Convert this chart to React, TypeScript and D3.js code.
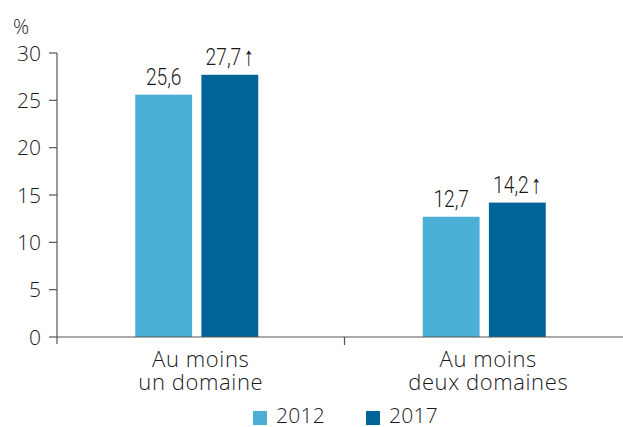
import React from "react";
import * as d3 from "d3";

const categories = ["Au moins\nun domaine", "Au moins\ndeux domaines"];
const seriesNames = ["2012", "2017"];
const values2012 = [25.6, 12.7];
const values2017 = [27.7, 14.2];
const valueLabels2012 = ["25,6", "12,7"];
const valueLabels2017 = ["27,7", "14,2"];
const significant2017 = [true, true];
const yTicks = [0, 5, 10, 15, 20, 25, 30];
const colors = ["#4cb0d6", "#006596"];

const W = 623;
const H = 427;
const mLeft = 57;
const mTop = 53;
const yZero = 337;

export default function App() {
  const y = d3.scaleLinear().domain([0, 30]).range([yZero, mTop]);
  const x0 = d3.scaleBand<string>().domain(categories).range([mLeft, 632]);
  const groupShift = -4;
  const x1 = d3.scaleBand<string>().domain(seriesNames).range([-61.5, 61.5]).paddingInner(0.14);
  const series = [values2012, values2017];
  const labels = [valueLabels2012, valueLabels2017];
  const flags = [[false, false], significant2017];
  const tickFont = "'Open Sans', Roboto, sans-serif";
  const condFont = "Roboto, sans-serif";

  return (
    <svg width={W} height={H} style={{ position: "absolute", left: 0, top: 0, background: "#fff" }}>
      {/* bars */}
      {categories.map((c, ci) => {
        const cx = (x0(c) as number) + x0.bandwidth() / 2 + groupShift;
        return seriesNames.map((s, si) => {
          const v = series[si][ci];
          const bx = cx + (x1(s) as number);
          return (
            <g key={c + s}>
              <rect x={bx} y={y(v)} width={x1.bandwidth()} height={yZero - y(v)} fill={colors[si]} />
              <text
                transform={`translate(${bx + x1.bandwidth() / 2},${y(v) - 10}) scale(0.8,1)`}
                textAnchor="middle"
                fontFamily={condFont}
                fontWeight={300}
                fontSize={24}
                fill="#1a1a1a"
              >
                {labels[si][ci]}
                {flags[si][ci] ? (
                  <tspan fontFamily="'Liberation Sans', sans-serif" fontWeight={400} fontSize={26} dx={3}>↑</tspan>
                ) : null}
              </text>
            </g>
          );
        });
      })}
      {/* y axis */}
      <line x1={mLeft} x2={mLeft} y1={mTop} y2={yZero + 7} stroke="#555" strokeWidth={1.2} />
      {yTicks.map((t) => (
        <g key={t}>
          <line x1={mLeft - 8} x2={mLeft} y1={y(t)} y2={y(t)} stroke="#555" strokeWidth={1.2} />
          <text x={41} y={y(t)} dy="0.36em" textAnchor="end" fontFamily={tickFont} fontWeight={300} fontSize={21} fill="#1a1a1a">
            {t}
          </text>
        </g>
      ))}
      <text x={13} y={34} fontFamily={tickFont} fontWeight={300} fontSize={20} fill="#1a1a1a">%</text>
      {/* x axis */}
      <line x1={mLeft} x2={W} y1={yZero} y2={yZero} stroke="#555" strokeWidth={1.2} />
      <line x1={x0(categories[1]) as number} x2={x0(categories[1]) as number} y1={yZero} y2={yZero + 8} stroke="#555" strokeWidth={1.2} />
      {categories.map((c) => {
        const cx = (x0(c) as number) + x0.bandwidth() / 2;
        return c.split("\n").map((line, li) => (
          <text key={c + li} x={cx} y={367 + li * 22.5} textAnchor="middle" fontFamily={tickFont} fontWeight={300} fontSize={22} letterSpacing={0.6} fill="#1a1a1a">
            {line}
          </text>
        ));
      })}
      {/* legend */}
      {seriesNames.map((s, si) => {
        const lx = si === 0 ? 253 : 366;
        return (
          <g key={s}>
            <rect x={lx} y={411} width={14} height={14} fill={colors[si]} />
            <text x={lx + 23} y={423} fontFamily={tickFont} fontWeight={300} fontSize={21} letterSpacing={0.3} fill="#1a1a1a">{s}</text>
          </g>
        );
      })}
    </svg>
  );
}
